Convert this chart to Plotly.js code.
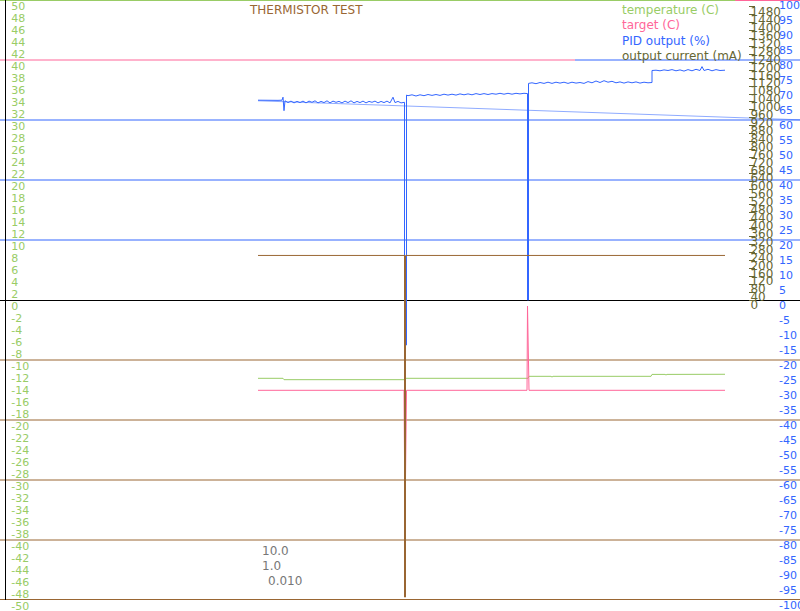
<!DOCTYPE html>
<html>
<head>
<meta charset="utf-8">
<script src="https://cdn.plot.ly/plotly-3.0.1.min.js"></script>
<style>html,body{margin:0;padding:0;background:#fff;}#chart{width:800px;height:611px;}</style>
</head>
<body>
<div id="chart"></div>
<script>
// ---- data (time in seconds from start of run) ----
const seriesNames = ['temperature (C)', 'target (C)', 'PID output (%)', 'output current (mA)'];
const pidParams = ['10.0', '1.0', '0.010'];

const pidTime = [0,4,8,12,16,20,24,25,26,27,30,33,36,39,42,45,48,51,54,57,60,63,66,69,72,75,78,81,84,87,90,93,96,99,102,105,108,111,114,117,120,123,126,129,132,135,137,140,143,146.5,146.5,148.5,148.5,
  150,154,158,162,166,170,174,178,182,186,190,194,198,202,206,210,214,218,222,226,230,234,238,242,246,250,254,258,262,266,269.5,269.5,270.5,270.5,
  274,278,282,286,290,294,298,302,306,310,314,318,322,326,330,334,338,342,346,350,354,358,362,366,370,374,378,382,386,390,394,394,
  398,402,406,410,414,418,422,426,430,434,438,442,444,446,450,454,458,462,467];
const pidOutput = [66.6,66.55,66.6,66.5,66.65,66.55,66.6,67.6,63.1,66.4,65.8,66.3,65.7,66.2,65.8,66.3,65.7,66.3,65.9,66.4,65.7,66.2,65.8,66.4,65.7,66.3,65.9,66.2,65.7,66.3,65.8,66.4,65.7,66.2,65.8,66.3,65.7,66.2,65.9,66.3,65.7,66.2,65.8,66.3,65.7,67.6,65.8,66.2,65.7,65.9,-15,-15,68.3,
  68.1,68.4,68.0,68.4,68.1,68.5,68.2,68.5,68.2,68.6,68.3,68.6,68.3,68.7,68.4,68.7,68.4,68.8,68.5,68.8,68.5,68.8,68.6,68.9,68.6,68.9,68.6,68.9,68.7,68.9,68.8,0,0,72.2,
  72.4,72.1,72.5,72.2,72.6,72.2,72.6,72.3,72.6,72.2,72.6,72.3,72.5,72.2,72.8,72.4,73.0,72.5,73.1,72.6,72.9,72.4,72.7,72.3,72.7,72.4,72.7,72.3,72.6,72.4,72.5,76.5,
  76.6,76.4,76.7,76.5,76.8,76.4,76.7,76.3,76.8,76.4,76.9,76.5,77.8,76.5,76.9,76.4,76.8,76.5,76.6];

const pidWrapTime = [0, 542];
const pidWrapOutput = [66.4, 60.07];

const tempTime = [0,25,26,146,148,270,271,293,294,295,393,394,407,408,409,455,456,457,467];
const temperature = [-13.05,-13.05,-13.28,-13.28,-13.05,-13.05,-12.72,-12.72,-12.85,-12.72,-12.72,-12.4,-12.4,-12.5,-12.4,-12.4,-12.5,-12.4,-12.38];

const targetTime = [0,146,147,148.5,269,269.5,271,467];
const target = [-15.05,-15.05,-37,-15.05,-15.05,-1,-15.05,-15.05];

const currentTime = [0,146.5,146.5,147.5,147.5,467];
const current = [225,225,-1500,-1500,225,225];

const tempTicks = [50,48,46,44,42,40,38,36,34,32,30,28,26,24,22,20,18,16,14,12,10,8,6,4,2,0,-2,-4,-6,-8,-10,-12,-14,-16,-18,-20,-22,-24,-26,-28,-30,-32,-34,-36,-38,-40,-42,-44,-46,-48,-50];
const pidTicks = [100,95,90,85,80,75,70,65,60,55,50,45,40,35,30,25,20,15,10,5,0,-5,-10,-15,-20,-25,-30,-35,-40,-45,-50,-55,-60,-65,-70,-75,-80,-85,-90,-95,-100];
const currentTicks = [0,40,80,120,160,200,240,280,320,360,400,440,480,520,560,600,640,680,720,760,800,840,880,920,960,1000,1040,1080,1120,1160,1200,1240,1280,1320,1360,1400,1440,1480];

// ---- colours ----
const GREEN = '#99cc66', PINK = '#ff6699', BLUE = '#3366ff', OLIVE = '#666633', BROWN = '#996633';

const traces = [
  {x: tempTime, y: temperature, yaxis: 'y', type: 'scatter', mode: 'lines', line: {color: GREEN, width: 1}, name: seriesNames[0]},
  {x: targetTime, y: target, yaxis: 'y', type: 'scatter', mode: 'lines', line: {color: PINK, width: 1}, name: seriesNames[1]},
  {x: pidWrapTime, y: pidWrapOutput, yaxis: 'y2', type: 'scatter', mode: 'lines', line: {color: 'rgba(51,102,255,0.55)', width: 1}, name: seriesNames[2], hoverinfo: 'skip'},
  {x: pidTime, y: pidOutput, yaxis: 'y2', type: 'scatter', mode: 'lines', line: {color: BLUE, width: 1}, name: seriesNames[2]},
  {x: currentTime, y: current, yaxis: 'y3', type: 'scatter', mode: 'lines', line: {color: BROWN, width: 1}, name: seriesNames[3]}
];

function hline(yv, x0, x1, color, w) {
  return {type: 'line', xref: 'paper', yref: 'y', x0: x0, x1: x1, y0: yv, y1: yv, line: {color: color, width: w || 1}, layer: 'below'};
}

const shapes = [
  hline(50, 0, 1, GREEN, 2), hline(50, 0.919, 1, PINK, 2),
  hline(40, 0, 0.71875, PINK), hline(40, 0.71875, 1, BLUE),
  hline(30, 0, 1, BLUE), hline(20, 0, 1, BLUE), hline(10, 0, 1, BLUE),
  hline(-10, 0, 1, BROWN), hline(-20, 0, 1, BROWN), hline(-30, 0, 1, BROWN), hline(-40, 0, 1, BROWN), hline(-50, 0, 1, BROWN, 2)
];

const PH = 600;
const legendColors = [GREEN, PINK, BLUE, OLIVE];
const legendY = [10.5, 25.5, 41, 56];
const annotations = [];
seriesNames.forEach((n, i) => annotations.push({
  text: n, xref: 'paper', yref: 'paper', x: 620/800, y: 1 - legendY[i]/PH, xanchor: 'left', yanchor: 'middle',
  showarrow: false, font: {size: 12, color: legendColors[i]}
}));
const paramX = [260, 260, 266];
const paramY = [550.5, 565.5, 580.5];
pidParams.forEach((p, i) => annotations.push({
  text: p, xref: 'paper', yref: 'paper', x: paramX[i]/800, y: 1 - paramY[i]/PH, xanchor: 'left', yanchor: 'middle',
  showarrow: false, font: {size: 12, color: '#777777'}
}));

const layout = {
  width: 800, height: 611,
  margin: {l: 0, r: 0, t: 0, b: 11, pad: 0},
  paper_bgcolor: '#ffffff', plot_bgcolor: '#ffffff',
  showlegend: false,
  font: {family: 'DejaVu Sans', size: 11},
  title: {text: 'THERMISTOR TEST', x: 250/800, xref: 'paper', xanchor: 'left', y: 1 - 10/611, yref: 'container', yanchor: 'middle',
          font: {size: 12, color: BROWN, family: 'DejaVu Sans'}},
  xaxis: {range: [-258, 542], visible: false, showgrid: false, zeroline: false},
  yaxis: {range: [-50, 50], side: 'right', anchor: 'free', position: 5/800,
          showline: true, linecolor: '#000000', linewidth: 1,
          zeroline: true, zerolinecolor: '#000000', zerolinewidth: 1, showgrid: false,
          tickmode: 'array', tickvals: tempTicks, ticktext: tempTicks.map(String), ticks: '', ticklabelstandoff: 3, ticklabelshift: 6,
          ticklabeloverflow: 'allow', tickfont: {color: GREEN, size: 11}},
  yaxis2: {range: [-100, 100], overlaying: 'y', side: 'right', anchor: 'free', position: 0.97,
           showline: false, showgrid: false, zeroline: false,
           tickmode: 'array', tickvals: pidTicks, ticktext: pidTicks.map(String), ticks: '', ticklabelstandoff: 2, ticklabelshift: 5,
           ticklabeloverflow: 'allow', tickfont: {color: BLUE, size: 11}},
  yaxis3: {range: [-1515, 1515], overlaying: 'y', side: 'right', anchor: 'free', position: 0.935,
           showline: false, showgrid: false, zeroline: false,
           tickmode: 'array', tickvals: currentTicks, ticktext: currentTicks.map(String), ticks: 'outside', ticklen: 6, tickcolor: OLIVE, ticklabelstandoff: -7, ticklabelshift: 5,
           ticklabeloverflow: 'allow', tickfont: {color: OLIVE, size: 12}},
  shapes: shapes,
  annotations: annotations
};

Plotly.newPlot('chart', traces, layout, {staticPlot: true, displayModeBar: false});
</script>
</body>
</html>
